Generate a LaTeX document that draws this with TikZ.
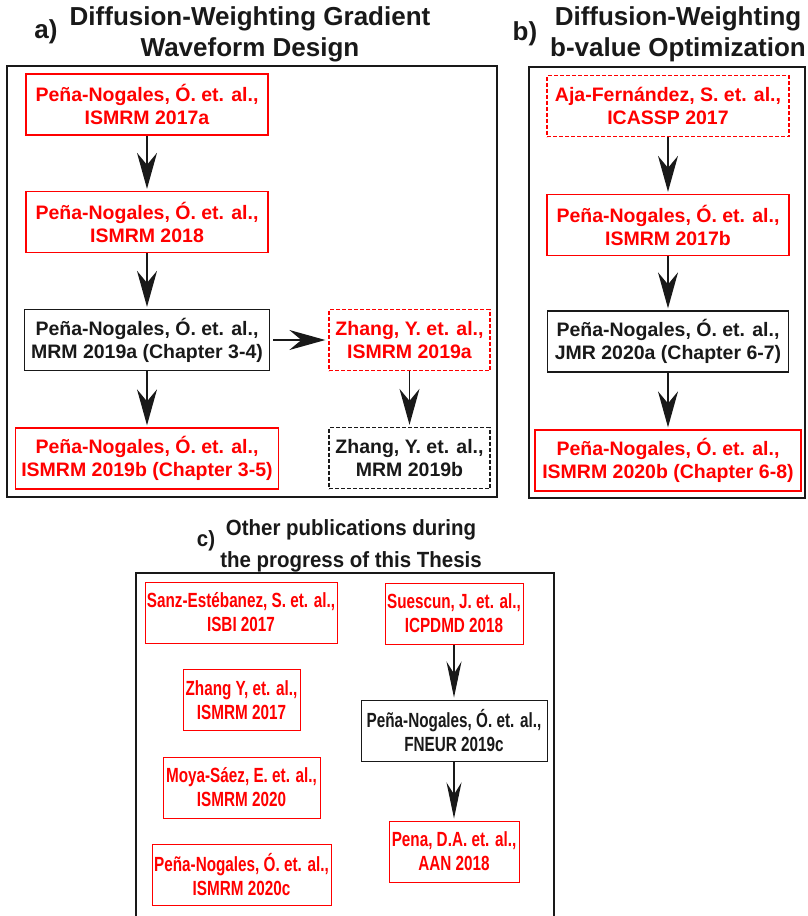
\documentclass[tikz,border=0pt]{standalone}
\usepackage{fontspec}
\usepackage{tikz}
\usetikzlibrary{arrows.meta}
\setmainfont{Liberation Sans}
\newfontfamily\estreita[FakeStretch=0.745]{Liberation Sans}
\newfontfamily\estreitaTit[FakeStretch=0.93]{Liberation Sans}
\definecolor{vermelho}{RGB}{255,0,0}
\definecolor{tinta}{RGB}{25,25,25}
\newcommand{\fonteCaixa}{\bfseries\fontsize{19.5}{23}\selectfont}
\newcommand{\fonteTitulo}{\bfseries\fontsize{26}{31.5}\selectfont}
\newcommand{\fonteC}{\estreita\bfseries\fontsize{20.5}{24}\selectfont}
\newcommand{\fonteTituloC}{\estreitaTit\bfseries\fontsize{22}{32}\selectfont}

\begin{document}
\begin{tikzpicture}[x=1pt, y=-1pt,
		caixa/.style={draw=vermelho, text=vermelho, line width=1.3pt, align=center, inner sep=0pt, minimum height=61pt, font=\fonteCaixa},
		tracejada/.style={dash pattern=on 4pt off 2pt},
		preta/.style={draw=tinta, text=tinta},
		caixac/.style={caixa, line width=1pt, font=\fonteC},
		seta/.style={draw=tinta, line width=1.6pt, shorten >=2pt, -{Stealth[length=36pt, width=20pt, inset=12pt]}},
		setac/.style={seta, line width=1.2pt, -{Stealth[length=36pt, width=15pt, inset=12pt]}},
		moldura/.style={draw=tinta, line width=1.8pt},
		titulo/.style={text=tinta, align=center, inner sep=0pt, font=\fonteTitulo}]
			\useasboundingbox (0,0) rectangle (808,916);
			% Molduras
			\draw[moldura] (7,66) rectangle (497,497);
			\draw[moldura] (529,67) rectangle (805,498);
			\draw[moldura, line width=1.2pt] (136,916) -- (136,573) -- (554,573) -- (554,916);
			% Títulos
			\node[titulo] (ra) at (46,32) {a)};
			\node[titulo, anchor=north] (ta) at (250,6) {Diffusion-Weighting Gradient\\Waveform Design};
			\node[titulo] (rb) at (525,34) {b)};
			\node[titulo, anchor=north] (tb) at (678,6) {Diffusion-Weighting\\b-value Optimization};
			\node[titulo, font=\fonteTituloC] (rc) at (206,541) {c)};
			\node[titulo, font=\fonteTituloC, anchor=north] (tc) at (351,519) {Other publications during\\the progress of this Thesis};
			% a) gradientes
			\node[caixa, minimum width=242pt] (a1) at (147,104.5) {Peña-Nogales, Ó. et. al.,\\ISMRM 2017a};
			\node[caixa, minimum width=242pt] (a2) at (147,222) {Peña-Nogales, Ó. et. al.,\\ISMRM 2018};
			\node[caixa, preta, minimum width=245pt] (a3) at (147,340) {Peña-Nogales, Ó. et. al.,\\MRM 2019a (Chapter 3-4)};
			\node[caixa, tracejada, minimum width=161pt] (a4) at (409.5,340) {Zhang, Y. et. al.,\\ISMRM 2019a};
			\node[caixa, minimum width=263pt] (a5) at (147,458.5) {Peña-Nogales, Ó. et. al.,\\ISMRM 2019b (Chapter 3-5)};
			\node[caixa, preta, tracejada, minimum width=161pt] (a6) at (409.5,458) {Zhang, Y. et. al.,\\MRM 2019b};
			\draw[seta] (a1) -- (a2);
			\draw[seta] (a2) -- (a3);
			\draw[seta, shorten <=3pt, shorten >=3pt] (a3) -- (a4);
			\draw[seta] (a3) -- (a5);
			\draw[seta] (a4) -- (a6);
			% b) valor b
			\node[caixa, tracejada, minimum width=242pt] (b1) at (668,106) {Aja-Fernández, S. et. al.,\\ICASSP 2017};
			\node[caixa, minimum width=242pt] (b2) at (668,225) {Peña-Nogales, Ó. et. al.,\\ISMRM 2017b};
			\node[caixa, preta, minimum width=241pt] (b3) at (668,341.5) {Peña-Nogales, Ó. et. al.,\\JMR 2020a (Chapter 6-7)};
			\node[caixa, minimum width=266pt] (b4) at (668,460.5) {Peña-Nogales, Ó. et. al.,\\ISMRM 2020b (Chapter 6-8)};
			\draw[seta] (b1) -- (b2);
			\draw[seta] (b2) -- (b3);
			\draw[seta] (b3) -- (b4);
			% c) outras publicações
			\node[caixac, minimum width=192pt] (c1) at (241,612.5) {Sanz-Estébanez, S. et. al.,\\ISBI 2017};
			\node[caixac, minimum width=117pt] (c2) at (241.5,700) {Zhang Y, et. al.,\\ISMRM 2017};
			\node[caixac, minimum width=157pt] (c3) at (241.5,787.5) {Moya-Sáez, E. et. al.,\\ISMRM 2020};
			\node[caixac, minimum width=179pt] (c4) at (241.5,874.5) {Peña-Nogales, Ó. et. al.,\\ISMRM 2020c};
			\node[caixac, minimum width=138pt] (c5) at (454,613.5) {Suescun, J. et. al.,\\ICPDMD 2018};
			\node[caixac, preta, minimum width=186pt] (c6) at (454,730.5) {Peña-Nogales, Ó. et. al.,\\FNEUR 2019c};
			\node[caixac, minimum width=130pt] (c7) at (454,851.5) {Pena, D.A. et. al.,\\AAN 2018};
			\draw[setac] (c5) -- (c6);
			\draw[setac] (c6) -- (c7);
		\end{tikzpicture}
\end{document}
